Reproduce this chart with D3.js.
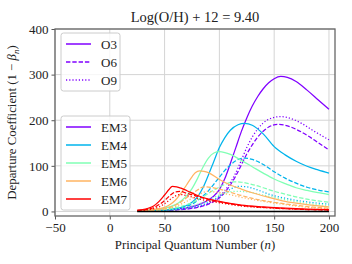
<!DOCTYPE html>
<html>
<head>
<meta charset="utf-8">
<script src="https://cdn.jsdelivr.net/npm/d3@7"></script>
<style>
body { margin: 0; background: #fff; }
text { font-family: "Liberation Serif", "DejaVu Serif", serif; fill: #222; }
</style>
</head>
<body>
<div id="chart"></div>
<script>
// categories
const emNames = ["EM3", "EM4", "EM5", "EM6", "EM7"];
const oNames = ["O3", "O6", "O9"];
const xTicks = [-50, 0, 50, 100, 150, 200];
const yTicks = [0, 100, 200, 300, 400];

// [n, 1 - beta_n]
const em3o3 = [[25,1],[40,2],[55,4],[70,8],[80,14],[90,25],[95,34],[100,48],[105,72],[110,105],[115,140],[120,175],[125,205],[130,231],[135,252],[140,269],[145,282],[150,291],[156,296],[162,294],[170,285],[180,266],[190,245],[200,224]];
const em3o6 = [[25,1],[40,1],[55,3],[70,5],[80,9],[90,16],[100,30],[105,42],[110,58],[115,78],[120,102],[125,126],[130,146],[135,163],[140,176],[145,185],[153,191],[160,189],[170,180],[180,167],[190,151],[200,135]];
const em3o9 = [[25,1],[40,1],[55,3],[70,6],[80,10],[90,18],[100,33],[105,46],[110,63],[115,85],[120,112],[125,140],[130,163],[135,181],[140,194],[148,205],[156,208],[165,204],[175,193],[185,178],[200,157]];

const em4o3 = [[25,1],[40,2],[50,3],[60,6],[70,13],[75,20],[80,32],[85,52],[90,80],[95,110],[100,140],[105,162],[110,178],[117,190],[123,193],[130,189],[140,170],[150,142],[160,124],[170,110],[180,99],[190,91],[200,84]];
const em4o6 = [[25,1],[40,2],[55,4],[65,8],[75,16],[82,28],[90,45],[95,60],[100,75],[105,90],[110,102],[115,111],[122,117],[130,114],[140,103],[150,87],[160,73],[170,62],[180,53],[190,47],[200,43]];
const em4o9 = [[25,1],[40,1],[55,3],[65,5],[75,9],[85,15],[95,26],[105,41],[112,51],[118,55],[125,54],[135,47],[145,38],[160,29],[180,21],[200,16]];

const em5o3 = [[25,2],[40,4],[50,7],[60,15],[65,23],[70,34],[75,50],[80,72],[85,97],[90,117],[95,128],[100,131],[105,129],[110,125],[120,112],[130,98],[140,84],[150,71],[160,61],[170,52],[180,46],[190,41],[200,37]];
const em5o6 = [[25,1],[40,3],[55,6],[65,11],[75,19],[85,32],[95,47],[105,59],[113,65],[120,64],[130,59],[140,52],[150,44],[160,38],[170,32],[180,27],[190,23],[200,20]];
const em5o9 = [[25,1],[40,2],[55,4],[65,7],[75,12],[85,20],[95,31],[105,40],[115,44],[125,43],[140,36],[160,26],[180,18],[200,13]];

const em6o3 = [[25,2],[35,3],[45,6],[50,9],[55,15],[60,25],[65,40],[70,58],[75,76],[78,85],[82,89],[86,88],[90,85],[100,70],[110,58],[120,49],[130,41],[145,31],[160,22],[180,15],[200,10]];
const em6o6 = [[25,1],[35,2],[45,4],[55,9],[60,14],[65,21],[70,30],[75,39],[80,47],[86,54],[92,53],[100,49],[110,42],[120,35],[135,26],[150,20],[175,12],[200,7]];
const em6o9 = [[25,1],[35,2],[45,3],[55,7],[60,11],[65,16],[70,22],[75,29],[82,38],[89,44],[95,43],[105,39],[120,31],[140,22],[160,15],[180,9],[200,6]];

const em7o3 = [[25,3],[30,4],[35,7],[40,12],[45,22],[50,36],[54,48],[57,55],[61,54],[65,51],[70,46],[80,35],[90,27],[100,22],[120,14],[140,10],[160,7],[180,5],[200,4]];
const em7o6 = [[25,2],[30,3],[35,5],[40,8],[45,15],[50,24],[55,35],[60,43],[64,44],[70,40],[80,33],[90,26],[100,21],[120,13],[140,9],[170,5],[200,3]];
const em7o9 = [[25,2],[30,2],[35,4],[40,6],[45,10],[50,17],[55,26],[60,34],[64,37],[70,35],[80,28],[90,23],[100,19],[120,12],[150,7],[200,3]];

const zeroLine = [[25,0],[200,0]];

const seriesByEm = [
  [em3o3, em3o6, em3o9],
  [em4o3, em4o6, em4o9],
  [em5o3, em5o6, em5o9],
  [em6o3, em6o6, em6o9],
  [em7o3, em7o6, em7o9]
];

// styles
const emColors = ["#8000ff", "#00b4ec", "#80ffb4", "#ffb462", "#ff0000"];
const oDash = [null, "4.4,1.9", "1.2,2"];

let W = 352, H = 264;
let margin = {top: 29, right: 17, bottom: 48, left: 55},
    width = W - margin.left - margin.right,
    height = H - margin.top - margin.bottom;

let svg = d3.select("#chart")
            .append("svg")
            .attr("width", W)
            .attr("height", H);

let g = svg.append("g")
           .attr("transform", "translate(" + margin.left + "," + margin.top + ")");

let x = d3.scaleLinear().domain([-50, 205.5]).range([0, width]);
let y = d3.scaleLinear().domain([-10, 400]).range([height, 0]);

// grid
g.append("g")
 .selectAll("line")
 .data(xTicks)
 .enter()
 .append("line")
 .attr("x1", d => x(d)).attr("x2", d => x(d))
 .attr("y1", 0).attr("y2", height)
 .attr("stroke", "#d4d4d4")
 .attr("stroke-width", 1);

g.append("g")
 .selectAll("line")
 .data(yTicks)
 .enter()
 .append("line")
 .attr("x1", 0).attr("x2", width)
 .attr("y1", d => y(d)).attr("y2", d => y(d))
 .attr("stroke", "#d4d4d4")
 .attr("stroke-width", 1);

// curves
let line = d3.line()
             .x(d => x(d[0]))
             .y(d => y(d[1]))
             .curve(d3.curveMonotoneX);

let curves = g.append("g");
seriesByEm.forEach(function(group, i) {
    group.forEach(function(pts, j) {
        curves.append("path")
              .datum(pts)
              .attr("fill", "none")
              .attr("stroke", emColors[i])
              .attr("stroke-width", 1.25)
              .attr("stroke-dasharray", oDash[j])
              .attr("d", line);
    });
});

curves.append("path")
      .datum(zeroLine)
      .attr("fill", "none")
      .attr("stroke", "#000")
      .attr("stroke-width", 1.5)
      .attr("d", line);

// axes
let xAxis = g.append("g")
             .attr("transform", "translate(0," + height + ")")
             .call(d3.axisBottom(x).tickValues(xTicks).tickSize(3.5).tickPadding(3)
                   .tickFormat(d => d < 0 ? "\u2212" + Math.abs(d) : d));
let yAxis = g.append("g")
             .call(d3.axisLeft(y).tickValues(yTicks).tickSize(3.5).tickPadding(3));

[xAxis, yAxis].forEach(function(a) {
    a.select(".domain").remove();
    a.selectAll(".tick line").attr("stroke", "#555").attr("stroke-width", 1);
    a.selectAll(".tick text")
     .style("font-family", "'Liberation Serif', 'DejaVu Serif', serif")
     .style("font-size", "13px")
     .attr("fill", "#222");
});

// spines
g.append("rect")
 .attr("x", 0).attr("y", 0)
 .attr("width", width).attr("height", height)
 .attr("fill", "none")
 .attr("stroke", "#666")
 .attr("stroke-width", 1.3);

// title and labels
svg.append("text")
   .attr("x", margin.left + width / 2)
   .attr("y", 22)
   .attr("text-anchor", "middle")
   .style("font-size", "14.5px")
   .text("Log(O/H) + 12 = 9.40");

let xl = svg.append("text")
            .attr("x", margin.left + width / 2)
            .attr("y", 249)
            .attr("text-anchor", "middle")
            .style("font-size", "12.8px");
xl.append("tspan").text("Principal Quantum Number (");
xl.append("tspan").style("font-style", "italic").text("n");
xl.append("tspan").text(")");

let yl = svg.append("text")
            .attr("transform", "translate(16," + (margin.top + height / 2) + ") rotate(-90)")
            .attr("text-anchor", "middle")
            .style("font-size", "12.8px");
yl.append("tspan").text("Departure Coefficient (1 \u2212 ");
yl.append("tspan").style("font-style", "italic").text("\u03b2");
yl.append("tspan").style("font-style", "italic").style("font-size", "9px").attr("dy", 2.5).text("n");
yl.append("tspan").attr("dy", -2.5).text(")");

// legends
function legend(x0, y0, w, entries) {
    let lg = svg.append("g").attr("transform", "translate(" + x0 + "," + y0 + ")");
    lg.append("rect")
      .attr("width", w)
      .attr("height", entries.length * 18 + 4)
      .attr("rx", 2.5)
      .attr("fill", "#fff")
      .attr("fill-opacity", 0.8)
      .attr("stroke", "#cccccc")
      .attr("stroke-width", 1);
    entries.forEach(function(e, i) {
        let cy = 11 + i * 18;
        lg.append("line")
          .attr("x1", 5).attr("x2", 30)
          .attr("y1", cy).attr("y2", cy)
          .attr("stroke", e.color)
          .attr("stroke-width", 1.5)
          .attr("stroke-dasharray", e.dash);
        lg.append("text")
          .attr("x", 40)
          .attr("y", cy)
          .attr("dominant-baseline", "central")
          .style("font-size", "13px")
          .text(e.name);
    });
}

legend(61, 33, 59, oNames.map((d, i) => ({name: d, color: emColors[0], dash: oDash[i]})));
legend(61, 116, 69, emNames.map((d, i) => ({name: d, color: emColors[i], dash: null})));
</script>
</body>
</html>
